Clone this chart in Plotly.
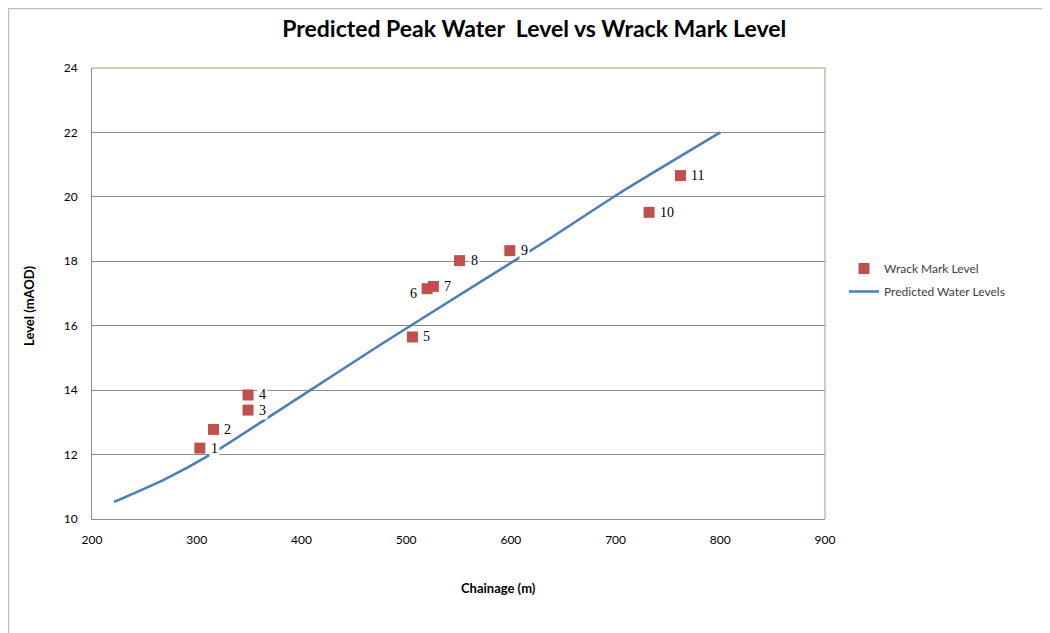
import plotly.graph_objects as go

# Wrack mark observations
wrack_chainage = [303, 316, 349, 349, 506, 520, 526, 551, 599, 732, 762]
wrack_level = [12.2, 12.78, 13.38, 13.85, 15.65, 17.15, 17.22, 18.02, 18.33, 19.52, 20.66]
wrack_labels = ["1", "2", "3", "4", "5", "6", "7", "8", "9", "10", "11"]

# Predicted water level profile
pred_chainage = [221, 268, 313, 399, 475, 571, 635, 704, 800]
pred_level = [10.53, 11.21, 12.0, 13.8, 15.4, 17.36, 18.66, 20.12, 22.0]

# page is offset by the body margin (8 px); plot area spans page x 92..825, y 68..519
W, H = 1042, 625
L, T = 84, 60
R = W - (825 - 8)
B = H - (519 - 8)
PW = W - L - R
PH = H - T - B

fig = go.Figure()
fig.add_trace(go.Scatter(
    x=wrack_chainage, y=wrack_level, mode="markers", name="Wrack Mark Level",
    legendgroup="a",
    marker=dict(symbol="square", size=11, color="#C0504D"),
))
fig.add_trace(go.Scatter(
    x=pred_chainage, y=pred_level, mode="lines", name="Predicted Water Levels",
    legendgroup="b",
    line=dict(color="#4A7EBB", width=2.5, shape="spline", smoothing=0.5),
))

annotations = []
for x, y, t in zip(wrack_chainage, wrack_level, wrack_labels):
    left = (t == "6")
    annotations.append(dict(
        x=x, y=y, xref="x", yref="y", text=t, showarrow=False,
        xanchor="right" if left else "left",
        xshift=-8 if left else 9, yshift=-5 if left else 0,
        font=dict(family="Liberation Serif", size=14, color="#000000"),
        bgcolor="white", borderpad=1,
    ))

# axis titles placed as annotations (offset as in the original)
annotations.append(dict(
    x=(498 - 92) / 733, y=(519 - 588) / 451, xref="paper", yref="paper",
    text="<b>Chainage (m)</b>", showarrow=False, xanchor="center", yanchor="middle",
    font=dict(family="Lato", size=13, color="#000000")))
annotations.append(dict(
    x=(29 - 92) / 733, y=(519 - 306) / 451, xref="paper", yref="paper",
    text="<b>Level (mAOD)</b>", showarrow=False, xanchor="center", yanchor="middle",
    textangle=-90, font=dict(family="Lato", size=13, color="#000000")))

fig.update_layout(
    width=W, height=H,
    margin=dict(l=L, r=R, t=T, b=B),
    paper_bgcolor="white", plot_bgcolor="white",
    title=dict(text="<b>Predicted Peak Water  Level vs Wrack Mark Level</b>",
               x=0.505, xanchor="center", y=0.966, yanchor="middle",
               font=dict(family="Lato", size=23, color="#000000")),
    xaxis=dict(range=[200, 900], dtick=100, showgrid=False, zeroline=False,
               showline=True, linecolor="#8C8C8C", linewidth=1,
               ticks="", ticklabelstandoff=10,
               tickfont=dict(family="Lato", size=12, color="#000000")),
    yaxis=dict(range=[10, 24], dtick=2, showgrid=True, gridcolor="#8C8C8C", gridwidth=1,
               zeroline=False, showline=True, linecolor="#8C8C8C", linewidth=1,
               ticks="", ticklabelstandoff=11,
               tickfont=dict(family="Lato", size=12, color="#000000")),
    legend=dict(x=(844 - 92) / 733, y=(519 - 280) / 451, xanchor="left", yanchor="middle",
                font=dict(family="Lato", size=12, color="#404040"),
                bgcolor="rgba(0,0,0,0)", tracegroupgap=4),
    showlegend=True,
    annotations=annotations,
    shapes=[
        dict(type="line", xref="paper", yref="paper", x0=0, x1=1, y0=1, y1=1,
             line=dict(color="#A0A080", width=1)),
        dict(type="line", xref="paper", yref="paper", x0=1, x1=1, y0=0, y1=1,
             line=dict(color="#A0A080", width=1)),
        # outer chart frame (left and top edges)
        dict(type="line", xref="paper", yref="paper",
             x0=(0.5 - L) / PW, x1=(0.5 - L) / PW,
             y0=-B / PH, y1=(H - T - 0.5) / PH,
             line=dict(color="#BFBFBF", width=1.5)),
        dict(type="line", xref="paper", yref="paper",
             x0=(0.5 - L) / PW, x1=(W - L) / PW,
             y0=1 + (T - 0.5) / PH, y1=1 + (T - 0.5) / PH,
             line=dict(color="#BFBFBF", width=1.5)),
    ],
)

fig.write_html("out.html")
